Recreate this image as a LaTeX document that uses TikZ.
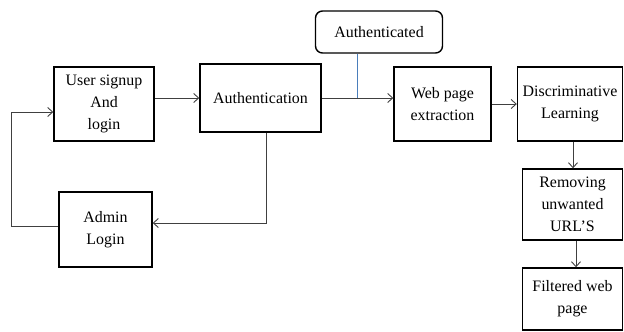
\documentclass[tikz,border=0pt]{standalone}
\usepackage{fontspec}
\setmainfont{Liberation Serif}
\usetikzlibrary{arrows.meta}
\begin{document}
\begin{tikzpicture}[x=1bp,y=-1bp,
  box/.style={draw=black, line width=1.4bp, align=center, inner sep=2bp,
    font=\fontsize{16}{22}\selectfont},
  conn/.style={draw=black!75, line width=0.9bp},
  arr/.style={conn, -{Straight Barb[length=5bp,width=9bp]}}]
\useasboundingbox (0,0) rectangle (624,331);
\node[box, minimum width=100bp, minimum height=74bp] (user) at (104,104) {User signup\\And\\login};
\node[box, minimum width=121bp, minimum height=68bp] (auth) at (260.5,98) {Authentication};
\node[box, minimum width=97bp, minimum height=74bp] (web) at (442.5,104) {Web page\\extraction};
\node[box, minimum width=105bp, minimum height=74bp] (disc) at (570,104) {Discriminative\\Learning};
\node[box, minimum width=100bp, minimum height=71bp] (rem) at (572.5,204.5) {Removing\\unwanted\\URL’S};
\node[box, minimum width=100bp, minimum height=62bp] (filt) at (572.5,299) {Filtered web\\page};
\node[box, minimum width=93bp, minimum height=75bp] (admin) at (105.5,229.5) {Admin\\Login};
\node[box, rounded corners=7bp, minimum width=127bp, minimum height=42bp] (call) at (379,32) {Authenticated};
\coordinate (j) at (357,98);
\coordinate (k) at (266,223);
\coordinate (lb) at (11,226);
\coordinate (lt) at (11,112);
\draw[arr] (auth.west -| user.east) -- (auth.west);
\draw[arr] (auth.east) -- (auth.east -| web.west);
\draw[arr] (web.east) -- (disc.west);
\draw[draw={rgb,255:red,74;green,126;blue,187}, line width=0.9bp] (call.south -| j) -- (j);
\draw[arr] (disc.south -| 573,0) -- (rem.north -| 573,0);
\draw[arr] (rem.south -| 576,0) -- (filt.north -| 576,0);
\draw[arr] (auth.south -| k) -- (k) -- (k -| admin.east);
\draw[arr] (lb -| admin.west) -- (lb) -- (lt) -- (lt -| user.west);
\end{tikzpicture}
\end{document}
